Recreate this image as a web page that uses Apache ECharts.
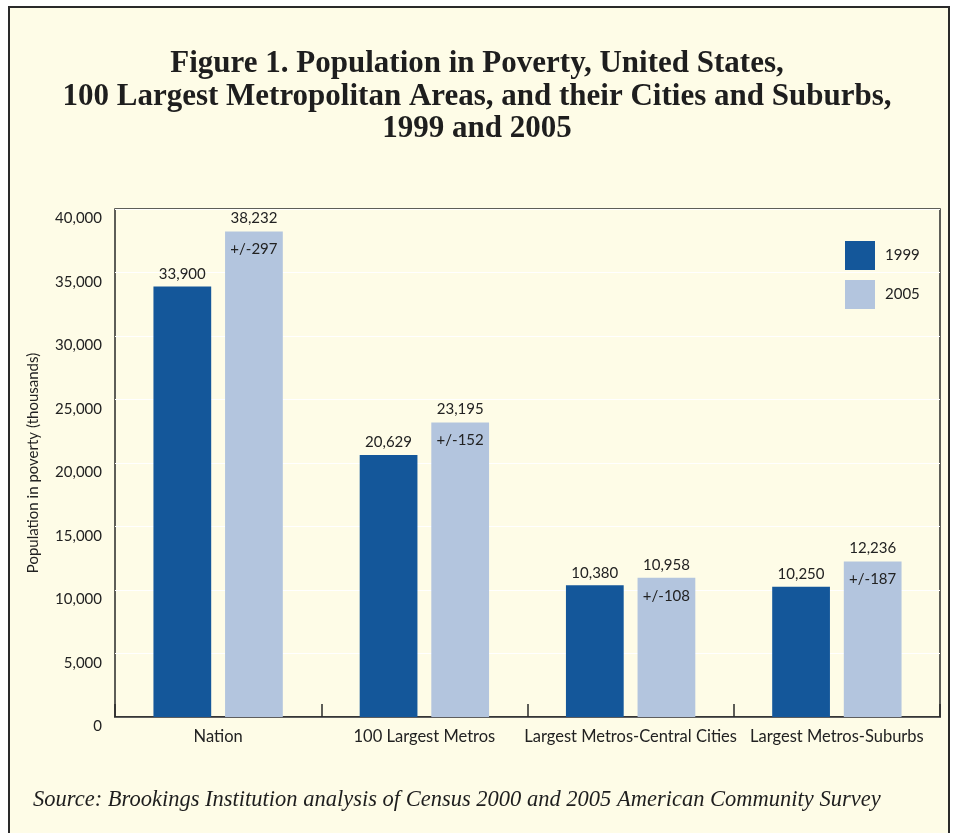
<!DOCTYPE html>
<html>
<head>
<meta charset="utf-8">
<script src="https://cdn.jsdelivr.net/npm/echarts@6/dist/echarts.min.js"></script>
<style>
html,body{margin:0;padding:0;background:#ffffff;}
#c{width:954px;height:833px;}
</style>
</head>
<body>
<div id="c"></div>
<script>
const categories = ['Nation', '100 Largest Metros', 'Largest Metros-Central Cities', 'Largest Metros-Suburbs'];
const values1999 = [33900, 20629, 10380, 10250];
const values2005 = [38232, 23195, 10958, 12236];
const margins2005 = ['+/-297', '+/-152', '+/-108', '+/-187'];
const yTicks = [0, 5000, 10000, 15000, 20000, 25000, 30000, 35000, 40000];

const FONT = 'Lato, "Open Sans", sans-serif';
const SERIF = '"Liberation Serif", "DejaVu Serif", serif';
const chart = echarts.init(document.getElementById('c'), null, {renderer: 'canvas'});
const fmt = v => v.toLocaleString('en-US');

chart.setOption({
  backgroundColor: '#ffffff',
  animation: false,
  graphic: [
    {type: 'rect', z: -10, shape: {x: 9, y: 7, width: 940, height: 840},
     style: {fill: '#fefce7', stroke: '#2a2a2a', lineWidth: 2}},
    {type: 'text', left: 'center', top: 48, style: {
      text: 'Figure 1. Population in Poverty, United States,\n100 Largest Metropolitan Areas, and their Cities and Suburbs,\n1999 and 2005',
      font: 'bold 31px ' + SERIF, fill: '#1e1e1e', textAlign: 'center', lineHeight: 32.5}},
    {type: 'text', left: 33, top: 789, style: {
      text: 'Source: Brookings Institution analysis of Census 2000 and 2005 American Community Survey',
      font: 'italic 22.5px ' + SERIF, fill: '#1e1e1e'}}
  ],
  grid: {left: 115, right: 14, top: 209, bottom: 116, show: true,
         borderColor: '#2a2a2a', borderWidth: 1.5, backgroundColor: 'transparent'},
  legend: {
    orient: 'vertical', left: 845, top: 241, padding: 0, itemWidth: 30, itemHeight: 29, itemGap: 10,
    icon: 'rect', textStyle: {fontFamily: FONT, fontSize: 15, color: '#222', padding: [0, 0, 0, 5]},
    data: ['1999', '2005']
  },
  xAxis: {
    type: 'category', data: categories,
    axisLine: {show: true, lineStyle: {color: '#2a2a2a', width: 1.5}},
    axisTick: {show: true, inside: true, length: 13, interval: 0, lineStyle: {color: '#2a2a2a', width: 1.5}},
    axisLabel: {fontFamily: FONT, fontSize: 16.5, color: '#222', margin: 11, interval: 0}
  },
  yAxis: {
    type: 'value', min: yTicks[0], max: yTicks[yTicks.length - 1], interval: 5000,
    name: 'Population in poverty (thousands)', nameLocation: 'middle', nameGap: 74,
    nameTextStyle: {fontFamily: FONT, fontSize: 15, color: '#222'},
    axisLine: {show: false}, axisTick: {show: false},
    splitLine: {show: true, lineStyle: {color: '#ffffff', width: 1.2}},
    axisLabel: {fontFamily: FONT, fontSize: 15, color: '#222', margin: 13,
                verticalAlign: 'top', padding: [2, 0, 0, 0], formatter: v => fmt(v)}
  },
  series: [
    {name: '1999', type: 'bar', data: values1999, barWidth: '28%', barGap: '24%',
     itemStyle: {color: '#14579a'},
     label: {show: true, position: 'top', distance: 5, fontFamily: FONT, fontSize: 15, color: '#222',
             formatter: p => fmt(p.value)}},
    {name: '2005', type: 'bar', data: values2005, barWidth: '28%',
     itemStyle: {color: '#b3c5de'},
     label: {show: true, position: 'insideTop', distance: 0, offset: [0, -23.5],
             fontFamily: FONT, fontSize: 15, color: '#222',
             formatter: p => '{a|' + fmt(p.value) + '}\n{b|' + margins2005[p.dataIndex] + '}',
             rich: {a: {fontFamily: FONT, fontSize: 15, color: '#222', lineHeight: 21},
                    b: {fontFamily: FONT, fontSize: 15, color: '#222', lineHeight: 41}}}}
  ]
});
</script>
</body>
</html>
